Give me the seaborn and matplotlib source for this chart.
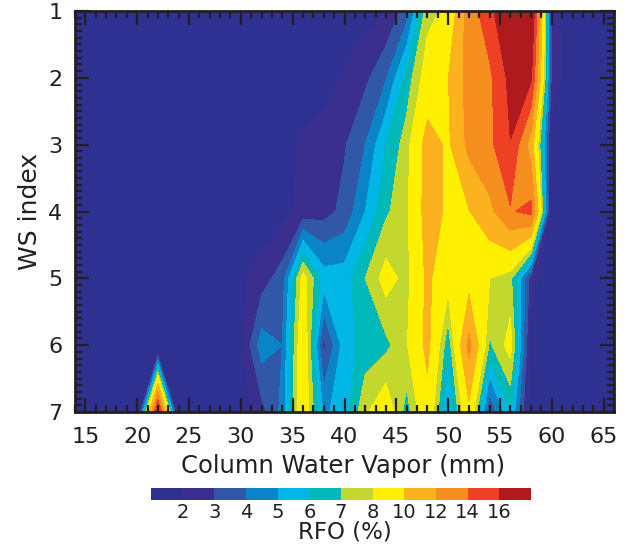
import numpy as np
import matplotlib
matplotlib.use("Agg")
import matplotlib.pyplot as plt
import seaborn as sns
from matplotlib.colors import ListedColormap
from matplotlib.ticker import MultipleLocator

# grid: column water vapor (mm) and WS index
cwv = [14, 16, 18, 20, 22, 24, 26, 28, 30, 32, 34, 36, 38, 40,
       42, 44, 46, 48, 50, 52, 54, 56, 58, 60, 62, 64, 66]
ws_index = [1, 2, 3, 4, 5, 6, 7]

# RFO (%) for each WS index row
ws1 = [0.8, 0.8, 0.9, 0.9, 1.0, 1.0, 1.0, 1.0, 1.0, 1.1, 1.1, 1.2, 1.2, 1.3,
       1.6, 2.0, 3.5, 7.6, 8.3, 13.0, 15.2, 19.0, 18.5, 2.5, 1.2, 0.9, 0.8]
ws2 = [0.8, 0.8, 0.9, 0.9, 1.0, 1.0, 1.0, 1.0, 1.1, 1.1, 1.2, 1.2, 1.4, 2.1,
       2.75, 3.9, 6.4, 8.7, 9.95, 12.8, 13.6, 16.6, 16.3, 2.6, 1.2, 0.9, 0.8]
ws3 = [0.8, 0.8, 0.9, 0.9, 1.0, 1.0, 1.0, 1.0, 1.1, 1.2, 1.5, 2.2, 2.6, 2.9,
       4.0, 6.0, 7.5, 10.8, 9.7, 12.5, 13.5, 15.95, 11.0, 1.5, 1.0, 0.9, 0.8]
ws4 = [0.8, 0.8, 0.9, 0.9, 1.0, 1.0, 1.0, 1.0, 1.1, 1.3, 1.6, 2.3, 2.6, 3.3,
       5.0, 6.8, 7.8, 10.8, 9.7, 9.9, 11.5, 13.8, 14.6, 1.0, 0.9, 0.9, 0.8]
ws5 = [0.8, 0.8, 0.9, 0.9, 1.0, 1.0, 1.0, 1.0, 1.8, 2.5, 3.5, 8.5, 5.5, 5.5,
       7.0, 8.5, 7.6, 10.4, 8.5, 9.2, 8.0, 7.3, 2.5, 1.0, 0.9, 0.9, 0.8]
ws6 = [0.8, 0.8, 0.9, 0.9, 0.3, 1.0, 1.0, 1.0, 1.8, 4.5, 4.0, 9.3, 2.7, 5.5,
       6.4, 6.7, 7.9, 10.5, 6.2, 12.6, 6.8, 8.5, 1.5, 1.0, 0.9, 0.9, 0.8]
ws7 = [0.8, 0.8, 0.9, 0.3, 17.0, 0.3, 1.0, 1.0, 1.4, 2.6, 4.3, 9.2, 4.8, 5.5,
       7.8, 9.0, 6.5, 9.3, 4.8, 9.5, 3.0, 6.0, 1.2, 1.0, 0.9, 0.9, 0.8]

rfo_levels = [2, 3, 4, 5, 6, 7, 8, 10, 12, 14, 16]
rfo_colors = ["#2E3092", "#3A2E8E", "#3157A7", "#0A84C6", "#00B6E6", "#00B8B8",
              "#C2D82E", "#FFF000", "#FCB11F", "#F68D1F", "#EE4024", "#AE1A1E"]

sns.set_style("ticks")
plt.rcParams["font.family"] = ["DejaVu Sans"]
ink = "#231F20"

rfo = np.array([ws1, ws2, ws3, ws4, ws5, ws6, ws7])

fig = plt.figure(figsize=(6.27, 5.46), dpi=100)
ax = fig.add_axes([75 / 627, 1 - 412 / 546, 539 / 627, 401 / 546])

ax.contourf(cwv, ws_index, rfo, levels=rfo_levels, colors=rfo_colors, extend="both")

ax.set_axisbelow(False)  # seaborn puts ticks under the fill otherwise
ax.set_xlim(14, 66)
ax.set_ylim(7, 1)
ax.set_xticks(range(15, 66, 5))
ax.set_yticks(range(1, 8))
ax.xaxis.set_minor_locator(MultipleLocator(1))
ax.yaxis.set_minor_locator(MultipleLocator(0.1))
ax.tick_params(which="both", direction="in", top=True, right=True,
               color=ink, width=1.6, labelcolor=ink)
ax.tick_params(which="major", length=10, labelsize=16)
ax.tick_params(which="minor", length=5)
ax.tick_params(axis="x", pad=11)
ax.tick_params(axis="y", pad=9)
for sp in ax.spines.values():
    sp.set_linewidth(2)
    sp.set_color(ink)

fig.text(343 / 627, 1 - 466 / 546, "Column Water Vapor (mm)", ha="center",
         va="center", fontsize=17.5, color=ink)
fig.text(30 / 627, 1 - 211 / 546, "WS index", ha="center", va="center",
         rotation=90, fontsize=18, color=ink)

# color bar drawn as a one-row heatmap
cax = fig.add_axes([151 / 627, 1 - 500 / 546, 380 / 627, 12 / 546])
sns.heatmap(np.arange(len(rfo_colors))[None, :], cmap=ListedColormap(rfo_colors),
            cbar=False, ax=cax, xticklabels=False, yticklabels=False)
cax.set_xticks(np.arange(1, len(rfo_colors)))
cax.set_xticklabels([str(v) for v in rfo_levels])
cax.tick_params(length=0, labelsize=14, pad=2, labelcolor=ink)
for sp in cax.spines.values():
    sp.set_visible(False)
fig.text(345 / 627, 1 - 532 / 546, "RFO (%)", ha="center", va="center",
         fontsize=16.5, color=ink)

fig.savefig("out.png", dpi=100)
